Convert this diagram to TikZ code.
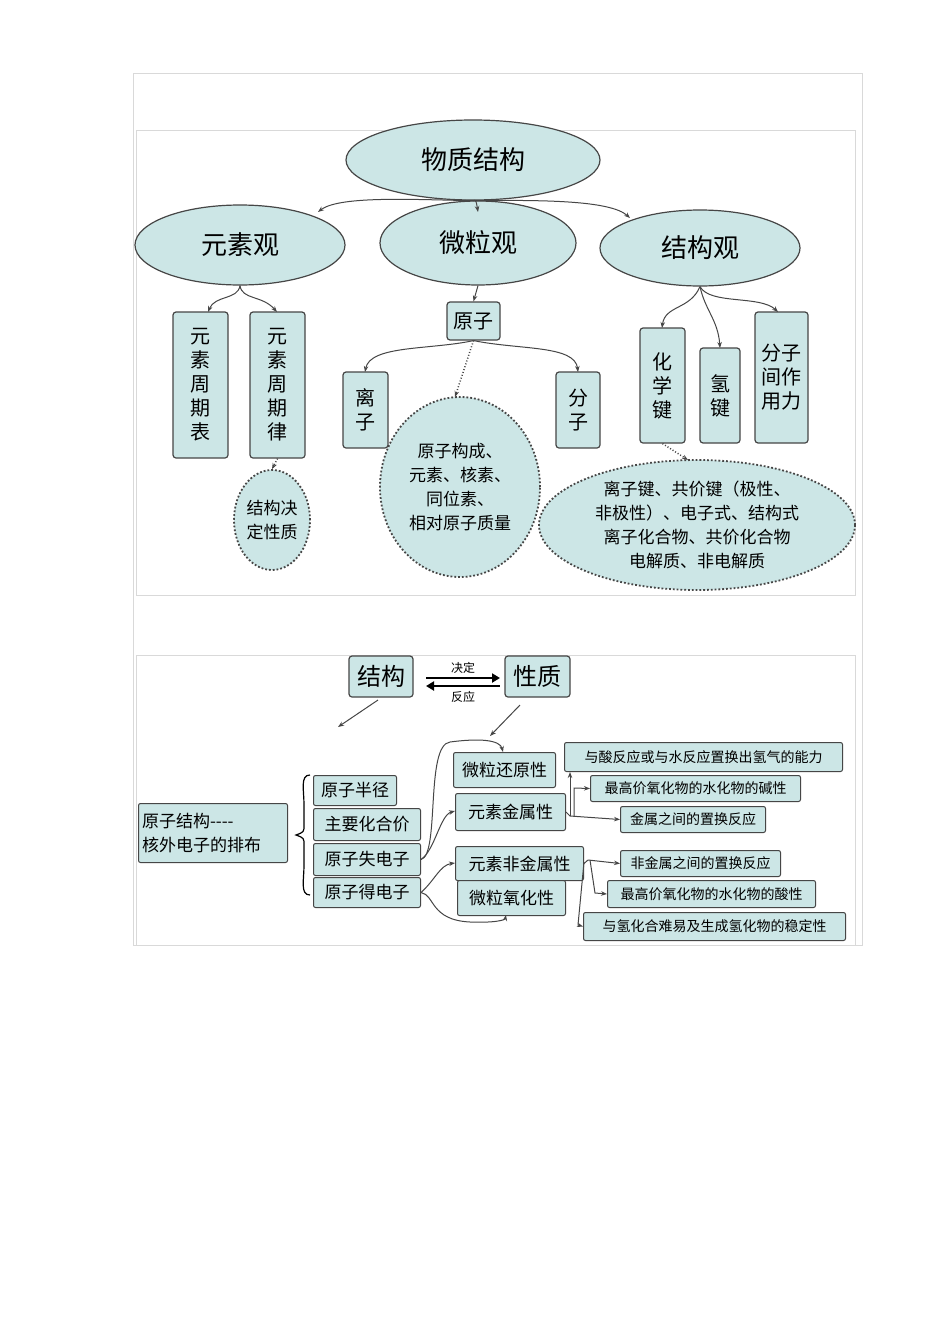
\documentclass[tikz,border=0pt]{standalone}
\usepackage{fontspec}
\setmainfont{Noto Sans CJK SC}
\usetikzlibrary{arrows.meta,shapes.geometric,calc}
\definecolor{tealf}{RGB}{204,230,230}
\definecolor{edgec}{RGB}{70,70,70}
\tikzset{
 ell/.style={ellipse,draw=edgec,line width=1.2pt,fill=tealf,font=\fontsize{26}{28}\selectfont},
 box/.style={draw=edgec,line width=1.2pt,fill=tealf,rounded corners=3pt,inner sep=2pt,font=\fontsize{20}{24}\selectfont,align=center},
 dotell/.style={ellipse,draw=edgec,line width=1.8pt,dotted,fill=tealf,align=center,inner sep=0pt,font=\fontsize{17}{24}\selectfont},
 sbox/.style={draw=edgec,line width=1pt,fill=tealf,rounded corners=2pt,anchor=north west,font=\fontsize{17}{18}\selectfont,inner sep=0pt,align=left},
 tbox/.style={draw=edgec,line width=1pt,fill=tealf,rounded corners=2pt,anchor=north west,font=\fontsize{14}{15}\selectfont,inner sep=0pt},
 arr/.style={-{Stealth[length=6pt]},line width=1pt,draw=edgec},
 darr/.style={arr,dotted,line width=1.5pt}
}
\begin{document}
\begin{tikzpicture}[x=1pt,y=-1pt]
\useasboundingbox (0,0) rectangle (950,1344);
\fill[white] (0,0) rectangle (950,1344);
\draw[black!15] (133,73) rectangle (862,945);
\draw[black!15] (136,130) rectangle (855,595);
\draw[black!15] (136,655) rectangle (855,945);
% top
\node[ell,minimum width=254,minimum height=80] (wz) at (473,160) {物质结构};
\node[ell,minimum width=210,minimum height=80] (ys) at (240,245) {元素观};
\node[ell,minimum width=196,minimum height=84] (wl) at (478,243) {微粒观};
\node[ell,minimum width=200,minimum height=76] (jg) at (700,248) {结构观};
\draw[arr] (wz.south) .. controls (420,200) and (340,195) .. (318,212);
\draw[arr] (wz.south) .. controls (476,200) .. (478,212);
\draw[arr] (wz.south) .. controls (540,200) and (610,200) .. (630,218);
\node[box,minimum width=55,minimum height=146] (zqb) at (200.5,385) {元\\素\\周\\期\\表};
\node[box,minimum width=55,minimum height=146] (zql) at (277.5,385) {元\\素\\周\\期\\律};
\draw[arr] (ys.south) .. controls (238,300) and (215,295) .. (208,312);
\draw[arr] (ys.south) .. controls (242,300) and (262,295) .. (277,312);
\node[dotell,minimum width=76,minimum height=100] (jdxz) at (272,520) {结构决\\定性质};
\draw[darr] (zql.south) -- (jdxz.north);
\node[box,minimum width=53,minimum height=38] (yz) at (473.5,321) {原子};
\draw[arr] (wl.south) -- (yz.north);
\node[box,minimum width=45,minimum height=76] (lz) at (365.5,410) {离\\子};
\node[box,minimum width=44,minimum height=76] (fz) at (578,410) {分\\子};
\node[dotell,minimum width=160,minimum height=180] (yzgc) at (460,487) {原子构成、\\元素、核素、\\同位素、\\相对原子质量};
\draw[arr] (yz.south) .. controls (430,350) and (370,345) .. (365,372);
\draw[arr] (yz.south) .. controls (520,350) and (575,345) .. (578,372);
\draw[darr] (yz.south) -- (455,397);
\node[box,minimum width=45,minimum height=115] (hxj) at (662.5,385.5) {化\\学\\键};
\node[box,minimum width=40,minimum height=95] (qj) at (720,395.5) {氢\\键};
\node[box,minimum width=53,minimum height=131] (fzj) at (781.5,377.5) {分子\\间作\\用力};
\draw[arr] (jg.south) .. controls (690,310) and (665,305) .. (662,328);
\draw[arr] (jg.south) .. controls (705,310) and (718,320) .. (720,348);
\draw[arr] (jg.south) .. controls (710,305) and (760,295) .. (778,312);
\node[dotell,minimum width=316,minimum height=130] (lzj) at (697,525) {离子键、共价键（极性、\\非极性）、电子式、结构式\\离子化合物、共价化合物\\电解质、非电解质};
\draw[darr] (hxj.south) -- (688,460);
% bottom
\node[box,minimum width=64,minimum height=41,font=\fontsize{24}{26}\selectfont] (jgb) at (381,676.5) {结构};
\node[box,minimum width=65,minimum height=41,font=\fontsize{24}{26}\selectfont] (xz) at (537.5,676.5) {性质};
\draw[-{Triangle[length=8pt,width=9pt]},line width=2pt,draw=black] (426,678) -- (500,678);
\draw[{Triangle[length=8pt,width=9pt]}-,line width=2pt,draw=black] (426,686) -- (500,686);
\node[font=\fontsize{12}{12}\selectfont] (jd) at (463,668) {决定};
\node[font=\fontsize{12}{12}\selectfont] (fy) at (463,697) {反应};
\coordinate (a1) at (338,727);
\coordinate (a2) at (490,736);
\draw[arr] (378,700) -- (a1);
\draw[arr] (520,705) -- (a2);
\node[sbox,minimum width=149,minimum height=59,font=\fontsize{17}{24}\selectfont,inner sep=3pt,text width=142] (yzjg) at (138,803) {原子结构{-}{-}{-}{-}\\核外电子的排布};
\draw[line width=1.2pt] (310,775) .. controls (300,775) and (304,790) .. (304,805) -- (304,825) .. controls (304,832) .. (296,835) .. controls (304,838) .. (304,845) -- (304,865) .. controls (304,880) and (300,895) .. (310,895);
\node[sbox,minimum width=83,minimum height=30] (bj) at (313,775) {原子半径};
\node[sbox,minimum width=107,minimum height=32] (hjj) at (313,808) {主要化合价};
\node[sbox,minimum width=107,minimum height=32] (sdz) at (313,843) {原子失电子};
\node[sbox,minimum width=107,minimum height=30] (ddz) at (313,877) {原子得电子};
\node[sbox,minimum width=102,minimum height=35] (hyx) at (453,752) {微粒还原性};
\node[sbox,minimum width=110,minimum height=37] (jsx) at (455,793) {元素金属性};
\node[sbox,minimum width=128,minimum height=34] (fjsx) at (455,846) {元素非金属性};
\node[sbox,minimum width=108,minimum height=35] (yhx) at (457,880) {微粒氧化性};
\draw[arr] (sdz.east) .. controls (440,855) and (425,745) .. (450,742) .. controls (480,738) and (500,740) .. (503,752);
\draw[arr] (sdz.east) .. controls (435,850) and (440,815) .. (455,811);
\draw[arr] (ddz.east) .. controls (435,880) and (440,865) .. (455,863);
\draw[arr] (ddz.east) .. controls (435,895) and (430,920) .. (470,922) .. controls (495,923) and (505,920) .. (506,915);
\node[tbox,minimum width=278,minimum height=29] (r1) at (564,742) {与酸反应或与水反应置换出氢气的能力};
\node[tbox,minimum width=210,minimum height=26] (r2) at (590,775) {最高价氧化物的水化物的碱性};
\node[tbox,minimum width=145,minimum height=26] (r3) at (620,806) {金属之间的置换反应};
\node[tbox,minimum width=160,minimum height=26] (r4) at (620,850) {非金属之间的置换反应};
\node[tbox,minimum width=208,minimum height=27] (r5) at (607,880) {最高价氧化物的水化物的酸性};
\node[tbox,minimum width=262,minimum height=28] (r6) at (583,912) {与氢化合难易及生成氢化物的稳定性};
\coordinate (m1) at (570,816);
\draw[line width=1pt,draw=edgec] (jsx.east) -- (m1);
\draw[arr] (m1) -- (m1 |- r1.south);
\draw[arr] (574,816) -- (574,788) -- (r2.west);
\draw[arr] (m1) -- (r3.west);
\coordinate (m2) at (588,860);
\draw[line width=1pt,draw=edgec] (fjsx.east) -- (m2);
\draw[arr] (m2) -- (r4.west);
\draw[arr] (590,860) -- (595,893) -- (r5.west);
\draw[arr] (584,862) -- (578,925) -- (r6.west);
\end{tikzpicture}
\end{document}
